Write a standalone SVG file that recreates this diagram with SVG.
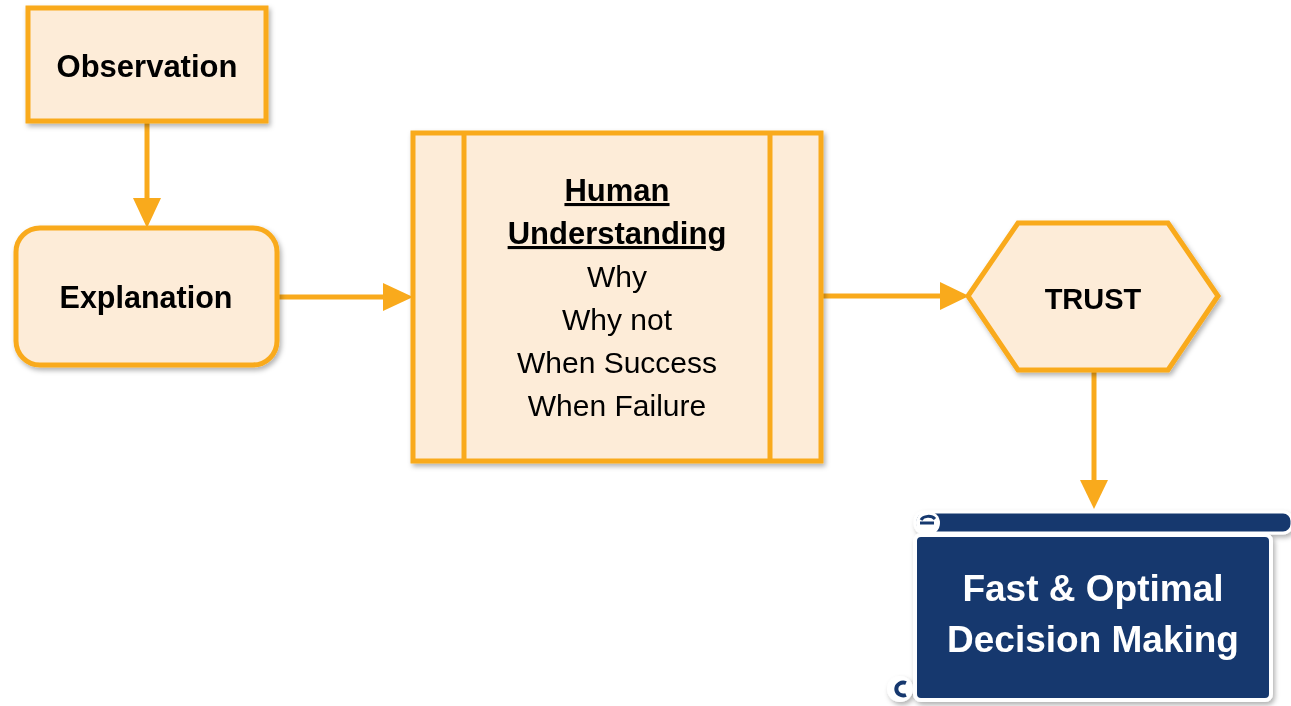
<svg xmlns="http://www.w3.org/2000/svg" width="1291" height="706" viewBox="0 0 1291 706">
<style>
.box{fill:#FDECD8;stroke:#F9AA1C;stroke-width:5;stroke-linejoin:miter}
.conn{stroke:#F9AA1C;stroke-width:5;fill:none}
.head{fill:#F9AA1C}
.t{font-family:"Liberation Sans",Arial,sans-serif;fill:#000;text-anchor:middle}
.b{font-weight:bold}
.w{fill:#fff;font-weight:bold}
</style>
<defs>
<filter id="sh" x="-10%" y="-10%" width="130%" height="130%">
<feDropShadow dx="2" dy="3" stdDeviation="2.5" flood-color="#000" flood-opacity="0.3"/>
</filter>
</defs>
<g id="connectors">
<line class="conn" x1="147" y1="121" x2="147" y2="200"/>
<polygon class="head" points="133,198 161,198 147,228"/>
<line class="conn" x1="277" y1="297" x2="385" y2="297"/>
<polygon class="head" points="383,283 383,311 413,297"/>
<line class="conn" x1="821" y1="296" x2="942" y2="296"/>
<polygon class="head" points="940,282 940,310 969,296"/>
<line class="conn" x1="1094" y1="370" x2="1094" y2="482"/>
<polygon class="head" points="1080,480 1108,480 1094,509"/>
</g>
<g id="observation" filter="url(#sh)">
<rect class="box" x="28" y="8" width="238" height="113"/>
<text class="t b" x="147" y="77" font-size="31">Observation</text>
</g>
<g id="explanation" filter="url(#sh)">
<rect class="box" x="16" y="228" width="261" height="137" rx="24"/>
<text class="t b" x="146" y="308" font-size="30.5">Explanation</text>
</g>
<g id="human-understanding" filter="url(#sh)">
<rect class="box" x="413" y="133" width="408" height="328"/>
<line class="conn" x1="464" y1="133" x2="464" y2="461"/>
<line class="conn" x1="770" y1="133" x2="770" y2="461"/>
<text class="t b" x="617" y="201" font-size="31" text-decoration="underline">Human</text>
<text class="t b" x="617" y="244" font-size="31" text-decoration="underline">Understanding</text>
<text class="t" x="617" y="287" font-size="30">Why</text>
<text class="t" x="617" y="330" font-size="30">Why not</text>
<text class="t" x="617" y="373" font-size="30">When Success</text>
<text class="t" x="617" y="416" font-size="30">When Failure</text>
</g>
<g id="trust" filter="url(#sh)">
<polygon class="box" points="968,296 1018,223 1168,223 1218,296 1168,370 1018,370"/>
<text class="t b" x="1093" y="309" font-size="29">TRUST</text>
</g>
<g id="decision" filter="url(#sh)">
<rect x="915" y="535" width="356" height="165" rx="6" fill="#14386E" stroke="#fff" stroke-width="4"/>
<rect x="915" y="512" width="377" height="21" rx="9" fill="#14386E" stroke="#fff" stroke-width="3"/>
<circle cx="928" cy="523" r="12" fill="#fff"/>
<path d="M920,523 L934,523 M935,519 A8,6 0 0 0 921,520" stroke="#14386E" stroke-width="3" fill="none"/>
<circle cx="900" cy="689" r="13" fill="#fff"/>
<path d="M906,683 A7,6.5 0 1 0 906,695" stroke="#14386E" stroke-width="4" fill="none"/>
<text class="t w" x="1093" y="601" font-size="37">Fast &amp; Optimal</text>
<text class="t w" x="1093" y="652" font-size="37">Decision Making</text>
</g>
</svg>
